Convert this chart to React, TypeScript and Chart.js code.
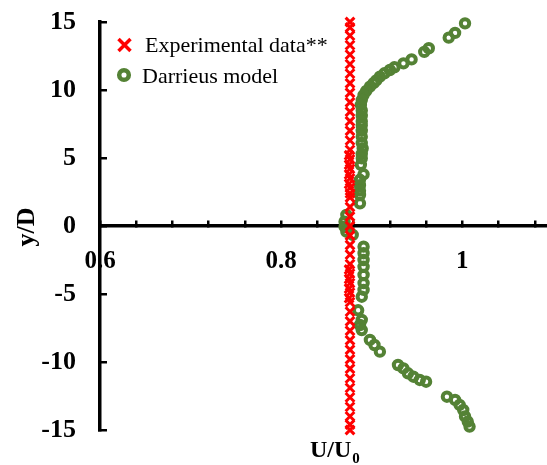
import React, { useEffect, useRef } from 'react';
import { Chart, registerables } from 'chart.js';

Chart.register(...registerables);

// ---- data ----
const EXP_Y = [15, 14.6, 14.0, 13.3, 12.6, 11.9, 11.2, 10.5, 9.8, 9.1, 8.4, 7.7, 7.0, 6.3, 5.6, 5.2, 4.9, 4.5, 4.2, 3.8, 3.5, 3.1, 2.8, 2.4, 2.1, 1.4, 0.7, 0, -0.7, -1.4, -2.1, -2.8, -3.2, -3.5, -3.9, -4.2, -4.6, -4.9, -5.3, -5.6, -6.3, -7.0, -7.7, -8.4, -9.1, -9.8, -10.5, -11.2, -11.9, -12.6, -13.3, -14.0, -14.6, -15];
const EXP_X = [0.876, 0.876, 0.876, 0.876, 0.876, 0.876, 0.876, 0.876, 0.876, 0.876, 0.876, 0.876, 0.876, 0.876, 0.876, 0.875, 0.876, 0.875, 0.876, 0.875, 0.876, 0.875, 0.876, 0.876, 0.876, 0.876, 0.876, 0.876, 0.876, 0.876, 0.876, 0.876, 0.875, 0.876, 0.875, 0.876, 0.875, 0.876, 0.875, 0.876, 0.876, 0.876, 0.876, 0.876, 0.876, 0.876, 0.876, 0.876, 0.876, 0.876, 0.876, 0.876, 0.876, 0.876];

const MODEL_X = [1.003, 0.992, 0.985, 0.963, 0.958, 0.944, 0.935, 0.925, 0.920, 0.914, 0.909, 0.905, 0.902, 0.898, 0.894, 0.891, 0.889, 0.888, 0.889, 0.889, 0.889, 0.889, 0.889, 0.889, 0.889, 0.890, 0.889, 0.889, 0.888, 0.891, 0.887, 0.887, 0.887, 0.887, 0.887, 0.872, 0.870,
  0.870, 0.872, 0.879, 0.891, 0.891, 0.891, 0.891, 0.891, 0.891, 0.891, 0.889, 0.885, 0.889, 0.887, 0.889, 0.898, 0.903, 0.909, 0.929, 0.935, 0.940, 0.946, 0.953, 0.960, 0.983, 0.992, 0.997, 1.001, 1.003, 1.006, 1.008];
const MODEL_Y = [14.9, 14.2, 13.85, 13.07, 12.8, 12.25, 11.96, 11.67, 11.47, 11.23, 10.98, 10.7, 10.5, 10.24, 9.93, 9.63, 9.26, 8.9, 8.5, 8.1, 7.7, 7.4, 7.0, 6.57, 6.1, 5.71, 5.3, 4.98, 4.5, 3.8, 3.4, 3.0, 2.6, 2.28, 1.67, 0.81, 0.32,
  -0.05, -0.42, -0.66, -1.52, -2.0, -2.5, -3.0, -3.6, -4.2, -4.7, -5.2, -6.2, -6.9, -7.28, -7.65, -8.38, -8.75, -9.24, -10.22, -10.47, -10.83, -11.08, -11.32, -11.45, -12.55, -12.79, -13.16, -13.53, -14.0, -14.38, -14.75];

const X_TICKS = [0.6, 0.64, 0.68, 0.72, 0.76, 0.8, 0.84, 0.88, 0.92, 0.96, 1.0, 1.04, 1.08];
const X_LABELED = [0.6, 0.8, 1.0];
const X_LABEL_TEXT = ['0.6', '0.8', '1'];
const Y_TICKS = [-15, -10, -5, 0, 5, 10, 15];

const SERIES_NAMES = ['Experimental data**', 'Darrieus model'];
const X_TITLE_MAIN = 'U/U';
const X_TITLE_SUB = '0';
const Y_TITLE = 'y/D';

const RED = '#FF0000';
const GREEN = '#548235';
const FONT = "'Liberation Serif', 'Times New Roman', serif";

const overlayPlugin = {
  id: 'overlay',
  afterDraw(chart: any) {
    const ctx = chart.ctx as CanvasRenderingContext2D;
    ctx.save();
    // legend
    const lx = 124.5;
    const rows = [45, 75];
    ctx.strokeStyle = RED;
    ctx.lineWidth = 3.5;
    ctx.beginPath();
    ctx.moveTo(lx - 6, rows[0] - 6);
    ctx.lineTo(lx + 6, rows[0] + 6);
    ctx.moveTo(lx + 6, rows[0] - 6);
    ctx.lineTo(lx - 6, rows[0] + 6);
    ctx.stroke();
    ctx.strokeStyle = GREEN;
    ctx.lineWidth = 4.5;
    ctx.beginPath();
    ctx.arc(lx - 0.5, rows[1], 4.8, 0, Math.PI * 2);
    ctx.stroke();
    ctx.fillStyle = '#000';
    ctx.font = `22px ${FONT}`;
    ctx.textAlign = 'left';
    ctx.textBaseline = 'alphabetic';
    ctx.fillText(SERIES_NAMES[0], 145, rows[0] + 7);
    ctx.fillText(SERIES_NAMES[1], 142, rows[1] + 8);

    // x title
    ctx.font = `bold 24px ${FONT}`;
    ctx.fillText(X_TITLE_MAIN, 310, 457);
    const w = ctx.measureText(X_TITLE_MAIN).width;
    ctx.font = `bold 15px ${FONT}`;
    ctx.fillText(X_TITLE_SUB, 310 + w + 1, 463);

    // y title
    ctx.translate(27, (chart.chartArea.top + chart.chartArea.bottom) / 2 + 1);
    ctx.rotate(-Math.PI / 2);
    ctx.font = `bold 26px ${FONT}`;
    ctx.textAlign = 'center';
    ctx.textBaseline = 'middle';
    ctx.fillText(Y_TITLE, 0, 0);
    ctx.restore();
  },
};

export default function App() {
  const ref = useRef<HTMLCanvasElement | null>(null);
  useEffect(() => {
    if (!ref.current) return;
    const chart = new Chart(ref.current, {
      type: 'scatter',
      data: {
        datasets: [
          {
            label: SERIES_NAMES[0],
            data: EXP_X.map((x, i) => ({ x, y: EXP_Y[i] })),
            pointStyle: 'crossRot',
            pointRadius: 6.2,
            pointBorderWidth: 3,
            borderColor: RED,
            backgroundColor: RED,
            clip: false,
          },
          {
            label: SERIES_NAMES[1],
            data: MODEL_X.map((x, i) => ({ x, y: MODEL_Y[i] })),
            pointStyle: 'circle',
            pointRadius: 4.2,
            pointBorderWidth: 4,
            borderColor: GREEN,
            backgroundColor: 'rgba(0,0,0,0)',
            clip: false,
          },
        ],
      },
      options: {
        responsive: false,
        animation: false,
        layout: { autoPadding: false, padding: { top: 22, bottom: 35, left: 0, right: 0 } },
        plugins: { legend: { display: false }, tooltip: { enabled: false } },
        scales: {
          x: {
            type: 'linear',
            position: { y: 0 } as any,
            min: 0.6,
            max: 1.0935,
            afterBuildTicks: (scale: any) => {
              scale.ticks = X_TICKS.map((v) => ({ value: v }));
            },
            afterFit: (scale: any) => {
              scale.paddingLeft = 0;
              scale.paddingRight = 0;
            },
            ticks: {
              autoSkip: false,
              maxRotation: 0,
              color: '#000',
              font: { family: FONT, size: 25, weight: 'bold', lineHeight: 3.4 },
              padding: 0,
              callback: (value: any) => {
                const idx = X_LABELED.findIndex((v) => Math.abs(v - Number(value)) < 1e-6);
                return idx >= 0 ? X_LABEL_TEXT[idx] : '';
              },
            },
            grid: { drawOnChartArea: false, drawTicks: true, tickLength: -7, color: '#000', lineWidth: 2.5 },
            border: { display: true, color: '#000', width: 3.5 },
          },
          y: {
            type: 'linear',
            position: 'left',
            min: -15,
            max: 15,
            afterBuildTicks: (scale: any) => {
              scale.ticks = Y_TICKS.map((v) => ({ value: v }));
            },
            afterFit: (scale: any) => {
              scale.width = 100;
              scale.paddingTop = 0;
              scale.paddingBottom = 0;
            },
            ticks: {
              color: '#000',
              font: { family: FONT, size: 26, weight: 'bold' },
              padding: 31,
            },
            grid: { drawOnChartArea: false, drawTicks: true, tickLength: -7, color: '#000', lineWidth: 2.5 },
            border: { display: true, color: '#000', width: 3.5 },
          },
        },
      },
      plugins: [overlayPlugin],
    });
    return () => chart.destroy();
  }, []);
  return (
    <div style={{ position: 'absolute', left: 0, top: 0, width: 547, height: 465, background: '#fff' }}>
      <canvas ref={ref} width={547} height={465} />
    </div>
  );
}
